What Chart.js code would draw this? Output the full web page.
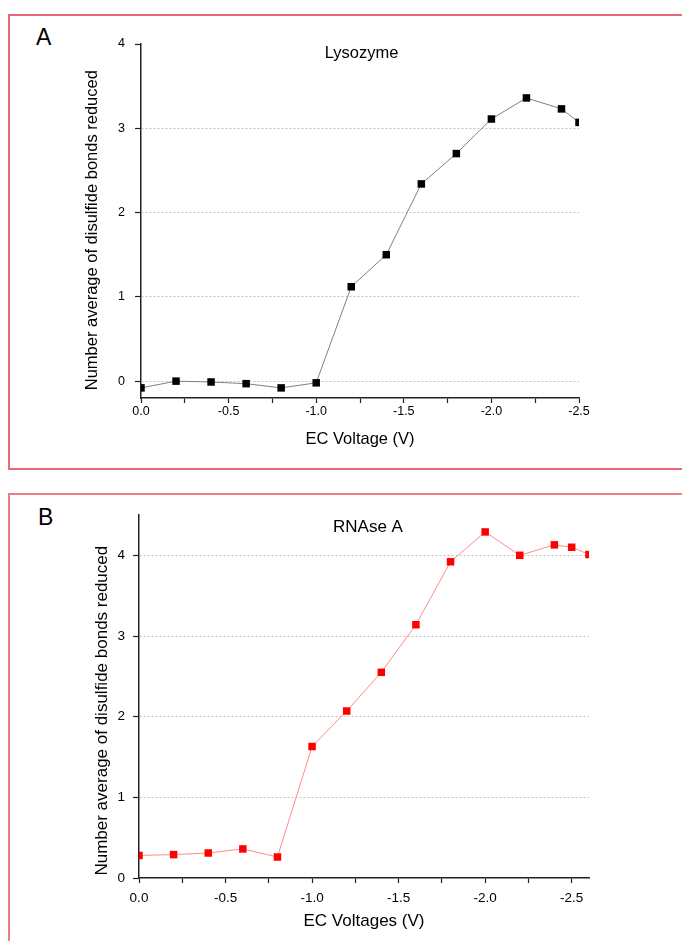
<!DOCTYPE html>
<html>
<head>
<meta charset="utf-8">
<script src="https://cdn.jsdelivr.net/npm/chart.js@4/dist/chart.umd.min.js"></script>
<style>
    body { margin: 0; width: 682px; height: 941px; overflow: hidden; background: #fff; position: relative; }
    .panel { position: absolute; left: 8px; width: 700px; border: 2px solid #e66a78; box-sizing: border-box; }
    .letter { position: absolute; font-family: 'Liberation Sans', Arial, sans-serif; font-size: 23px; line-height: 23px; color: #000; }
    canvas { position: absolute; left: 0; }
</style>
</head>
<body>
<div class="panel" style="top: 14px; height: 456px;"></div>
<div class="panel" style="top: 493px; height: 470px; border-color: #ea7d88;"></div>
<div class="letter" style="left: 36px; top: 26px;">A</div>
<div class="letter" style="left: 38px; top: 506px;">B</div>
<canvas id="chartA" width="682" height="470" style="top: 0;"></canvas>
<canvas id="chartB" width="682" height="471" style="top: 470px;"></canvas>
<script>
const voltagesA = [0, -0.2, -0.4, -0.6, -0.8, -1.0, -1.2, -1.4, -1.6, -1.8, -2.0, -2.2, -2.4, -2.5]
const lysozyme = [-0.08, 0.0, -0.01, -0.03, -0.08, -0.02, 1.12, 1.50, 2.34, 2.70, 3.11, 3.36, 3.23, 3.07]

const voltagesB = [0, -0.2, -0.4, -0.6, -0.8, -1.0, -1.2, -1.4, -1.6, -1.8, -2.0, -2.2, -2.4, -2.5, -2.6]
const rnaseA = [0.28, 0.29, 0.31, 0.36, 0.26, 1.63, 2.07, 2.55, 3.14, 3.92, 4.29, 4.00, 4.13, 4.10, 4.01]

// major ticks carry labels, the quarter ticks in between are unlabelled
const xTicks = [0, -0.25, -0.5, -0.75, -1.0, -1.25, -1.5, -1.75, -2.0, -2.25, -2.5]
const xLabels = ['0.0', '', '-0.5', '', '-1.0', '', '-1.5', '', '-2.0', '', '-2.5']
const yTicks = [0, 1, 2, 3, 4]

const yTitle = 'Number average of disulfide bonds reduced'
const font = "'Liberation Sans', Arial, sans-serif"

// title drawn inside the plot area, like the original figure
const panelTitle = {
    id: 'panelTitle',
    afterDraw(chart, args, opts) {
        const ctx = chart.ctx
        ctx.save()
        ctx.font = opts.size + 'px ' + font
        ctx.fillStyle = '#000'
        ctx.textAlign = 'center'
        ctx.textBaseline = 'alphabetic'
        ctx.fillText(opts.text, opts.x, opts.y)
        ctx.restore()
    }
}

const makeChart = (id, xs, ys, cfg) => {
    return new Chart(document.getElementById(id), {
        type: 'line',
        data: {
            datasets: [{
                data: xs.map((x, i) => ({ x: x, y: ys[i] })),
                borderColor: cfg.lineColor,
                borderWidth: 1,
                pointStyle: 'rect',
                pointRadius: 5.3,
                pointBackgroundColor: cfg.pointColor,
                pointBorderWidth: 0,
                tension: 0
            }]
        },
        options: {
            responsive: false,
            animation: false,
            layout: { padding: cfg.padding },
            plugins: {
                legend: { display: false },
                tooltip: { enabled: false },
                panelTitle: cfg.title
            },
            scales: {
                x: {
                    type: 'linear',
                    reverse: true,
                    min: cfg.xMin,
                    max: 0,
                    afterBuildTicks: (scale) => { scale.ticks = xTicks.map(v => ({ value: v })) },
                    afterFit: (scale) => { scale.height = cfg.xHeight },
                    ticks: {
                        autoSkip: false,
                        maxRotation: 0,
                        padding: cfg.xTickPad,
                        color: '#000',
                        font: { family: font, size: cfg.tickSize },
                        callback: (v, i) => xLabels[i]
                    },
                    grid: {
                        drawOnChartArea: false,
                        tickLength: 5,
                        tickColor: '#222',
                        tickWidth: 1.2
                    },
                    border: { color: '#222', width: 1.5 },
                    title: {
                        display: true,
                        text: cfg.xTitle,
                        color: '#000',
                        font: { family: font, size: cfg.axisSize },
                        padding: { top: 0, bottom: cfg.xTitlePad }
                    }
                },
                y: {
                    min: cfg.yMin,
                    max: cfg.yMax,
                    afterBuildTicks: (scale) => { scale.ticks = yTicks.map(v => ({ value: v })) },
                    afterFit: (scale) => { scale.width = cfg.yWidth },
                    ticks: {
                        padding: cfg.yTickPad,
                        color: '#000',
                        font: { family: font, size: cfg.tickSize },
                        callback: (v) => String(v)
                    },
                    grid: {
                        color: (ctx) => ctx.tick && ctx.tick.value === cfg.yNoGrid ? 'rgba(0,0,0,0)' : '#c4c4c4',
                        lineWidth: 1,
                        tickLength: 6,
                        tickColor: '#222',
                        tickWidth: 1.2,
                        tickBorderDash: []
                    },
                    border: { color: '#222', width: 1.5, dash: [2, 2] },
                    title: {
                        display: true,
                        // trailing spaces nudge the rotated title down a little
                        text: yTitle + ' '.repeat(cfg.yTitleShift),
                        color: '#000',
                        font: { family: font, size: cfg.axisSize },
                        padding: { top: cfg.yTitlePad, bottom: 0 }
                    }
                }
            }
        },
        plugins: [panelTitle]
    })
}

makeChart('chartA', voltagesA, lysozyme, {
    lineColor: '#808080',
    pointColor: '#000000',
    padding: { left: 0, top: 44, right: 103, bottom: 0 },
    xMin: -2.5, yMin: -0.2, yMax: 4, yNoGrid: 4,
    xHeight: 72, yWidth: 141,
    xTickPad: 1, yTickPad: 10,
    tickSize: 12.5, axisSize: 16.5,
    xTitle: 'EC Voltage (V)', xTitlePad: 21, yTitlePad: 83, yTitleShift: 4,
    title: { text: 'Lysozyme', x: 361.5, y: 58, size: 16.5 }
})

makeChart('chartB', voltagesB, rnaseA, {
    lineColor: '#ff8c8c',
    pointColor: '#ff0000',
    padding: { left: 0, top: 45, right: 93, bottom: 0 },
    xMin: -2.6, yMin: 0, yMax: 4.5, yNoGrid: 0,
    xHeight: 63, yWidth: 139,
    xTickPad: 7, yTickPad: 8,
    tickSize: 13.5, axisSize: 17,
    xTitle: 'EC Voltages (V)', xTitlePad: 9, yTitlePad: 92, yTitleShift: 6,
    title: { text: 'RNAse A', x: 368, y: 62, size: 17 }
})
</script>
</body>
</html>
